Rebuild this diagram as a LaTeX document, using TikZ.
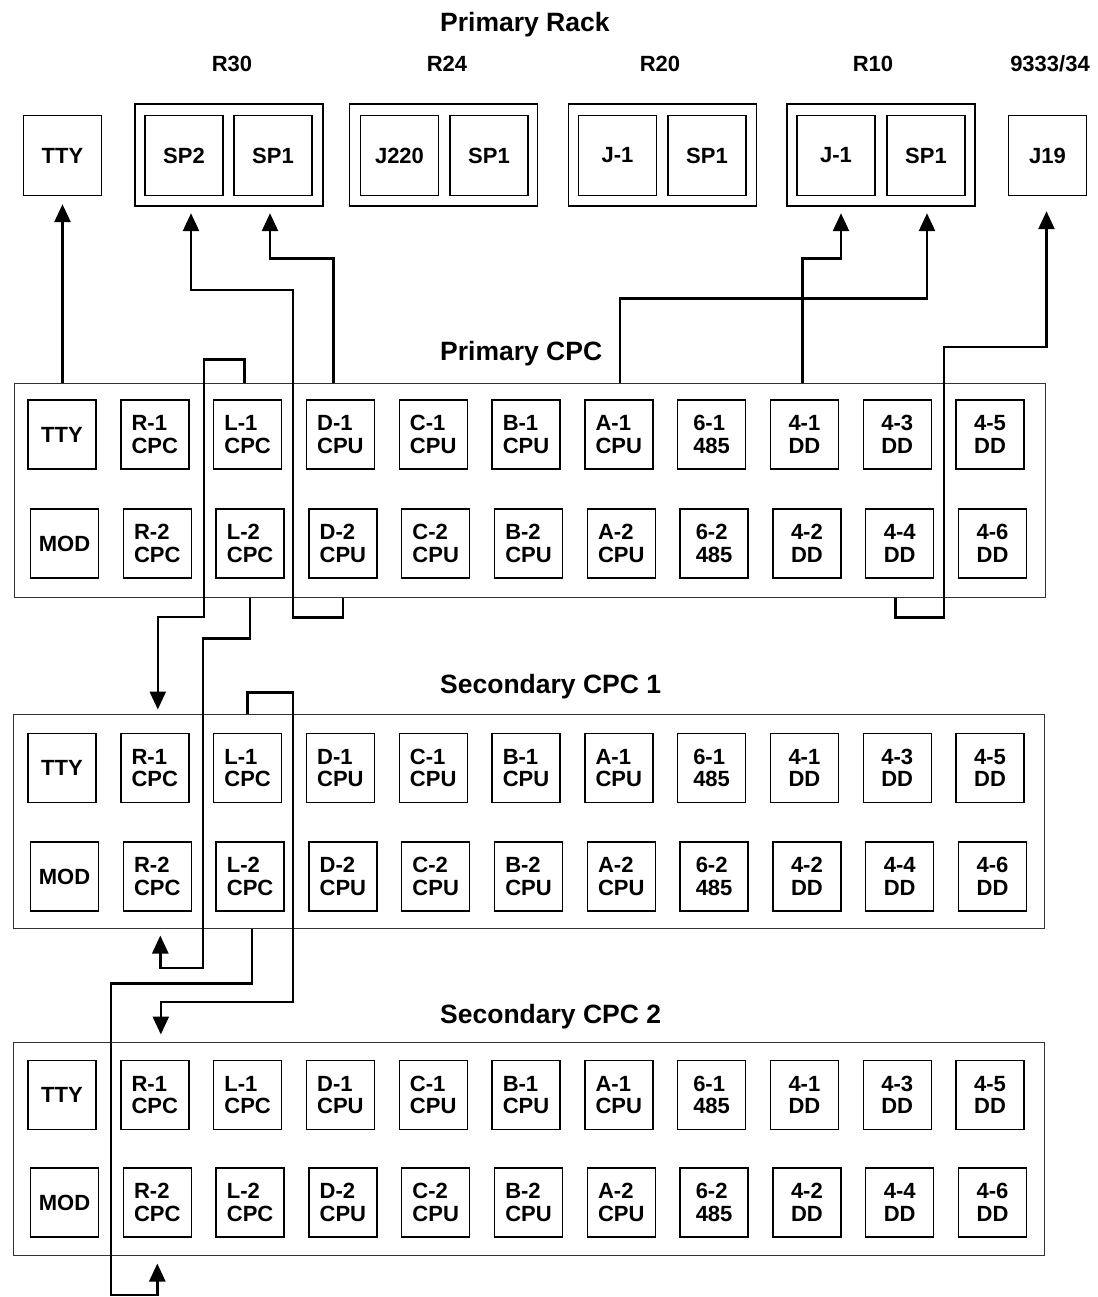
\documentclass[tikz,border=0pt]{standalone}
\usepackage{fontspec}
\setmainfont{Liberation Sans}
\usetikzlibrary{arrows.meta,calc}
\begin{document}
\begin{tikzpicture}[x=1pt,y=-1pt,
  cell/.style={draw, line width=1.4pt, minimum width=68pt, minimum height=69pt, inner sep=0pt, align=left, font=\bfseries\fontsize{22}{22.5}\selectfont},
  rackbox/.style={draw, line width=1.4pt, minimum width=78pt, minimum height=80pt, inner sep=0pt, font=\bfseries\fontsize{22}{22}\selectfont},
  rackouter/.style={draw, line width=1.4pt, minimum width=188pt, minimum height=102pt, inner sep=0pt},
  cpcbox/.style={draw=black!80, line width=1pt, minimum width=1031pt, minimum height=214pt, inner sep=0pt},
  title/.style={font=\bfseries\fontsize{26.5}{28}\selectfont, anchor=base west, inner sep=0pt},
  lbl/.style={font=\bfseries\fontsize{22}{22}\selectfont, anchor=base, inner sep=0pt},
  conn/.style={line width=2.6pt, -{Triangle[width=16pt,length=18pt]}}
]
\useasboundingbox (0,0) rectangle (1097,1297);

% titles
\node[title] (tRack) at (440,32) {Primary Rack};
\node[title] (tP) at (440,360) {Primary CPC};
\node[title] (tS1) at (440,693) {Secondary CPC 1};
\node[title] (tS2) at (440,1023) {Secondary CPC 2};

% rack labels
\node[lbl] (lR30) at (232,72) {R30};
\node[lbl] (lR24) at (447,72) {R24};
\node[lbl] (lR20) at (660,72) {R20};
\node[lbl] (lR10) at (873,72) {R10};
\node[lbl] (l9333) at (1050,72) {9333/34};

% rack boxes
\node[rackbox] (rTTY) at (62.5,155.5) {TTY};
\node[rackouter] (R30) at (229,155) {};
\node[rackbox] (rSP2) at (184,155.5) {SP2};
\node[rackbox] (rSP1) at (273,155.5) {SP1};
\node[rackouter] (R24) at (443.5,155) {};
\node[rackbox] (sJ220) at (399.5,155.5) {J220};
\node[rackbox] (sSP1) at (489,155.5) {SP1};
\node[rackouter] (R20) at (662.5,155) {};
\node[rackbox] (pJ1) at (617.5,155.5) {J-1};
\node[rackbox] (pSP1) at (707,155.5) {SP1};
\node[rackouter] (R10) at (881,155) {};
\node[rackbox] (qJ1) at (836,155.5) {J-1};
\node[rackbox] (qSP1) at (926,155.5) {SP1};
\node[rackbox] (rJ19) at (1047.5,155.5) {J19};

% CPC enclosures
\node[cpcbox] (P) at (529.5,490) {};
\node[cpcbox] (S1) at (529,821) {};
\node[cpcbox, minimum height=213pt] (S2) at (528.5,1148.5) {};

% cells
\foreach \pre/\ya/\yb in {P/434.5/543.5, S1/768/876.5, S2/1095/1202.5}{
  \foreach \i/\n/\ta/\tb in {0/T/{TTY}/{MOD}, 1/R/{R-1\\CPC}/{R-2\\CPC}, 2/L/{L-1\\CPC}/{L-2\\CPC},
      3/D/{D-1\\CPU}/{D-2\\CPU}, 4/C/{C-1\\CPU}/{C-2\\CPU}, 5/B/{B-1\\CPU}/{B-2\\CPU},
      6/A/{A-1\\CPU}/{A-2\\CPU}, 7/X/{6-1\\485}/{6-2\\485}, 8/F/{4-1\\DD}/{4-2\\DD},
      9/G/{4-3\\DD}/{4-4\\DD}, 10/H/{4-5\\DD}/{4-6\\DD}}{
    \node[cell] (\pre\n a) at ({62+92.8*\i},\ya) {\ta};
    \node[cell] (\pre\n b) at ({64.5+92.8*\i},\yb) {\tb};
  }
}

% connectors
\draw[conn] (P.north -| rTTY) -- ($(rTTY.south)+(0,8)$);
\draw[conn] ($(P.north -| PDa)+(-7,0)$) |- ($(rSP1.south)+(-3,62)$) -- ($(rSP1.south)+(-3,17)$);
\draw[conn] ($(P.south -| PDb)+(0,0)$) -- ++(0,20) -| (293,290) -| ($(rSP2.south)+(7,17)$);
\draw[conn] ($(P.north -| PAa)+(1,0)$) |- ($(qSP1.south)+(1,102)$) -- ($(qSP1.south)+(1,17)$);
\draw[conn] ($(P.north -| PFa)+(-2,0)$) |- ($(qJ1.south)+(5,62)$) -- ($(qJ1.south)+(5,17)$);
\draw[conn] ($(P.south -| PGb)+(-4,0)$) -- ++(0,20) -| (944,347) -| ($(rJ19.south)+(-1,15)$);
\draw[conn] ($(P.north -| PLa)+(-3,0)$) -- ++(0,-23) -| (204,617) -| ($(S1.north -| S1Ra)+(3,-4)$);
\draw[conn] ($(P.south -| PLb)+(0,0)$) -- ++(0,41) -| (203,968) -| ($(S1.south -| S1Rb)+(3,7)$);
\draw[conn] (S1.north -| S1La) -- ++(0,-21) -| (293,1002) -| ($(S2.north -| S2Ra)+(6,-7)$);
\draw[conn] ($(S1.south -| S1Lb)+(2,0)$) -- ++(0,55) -| (111,1295) -| ($(S2.south -| S2Rb)+(0,8)$);
\end{tikzpicture}
\end{document}
